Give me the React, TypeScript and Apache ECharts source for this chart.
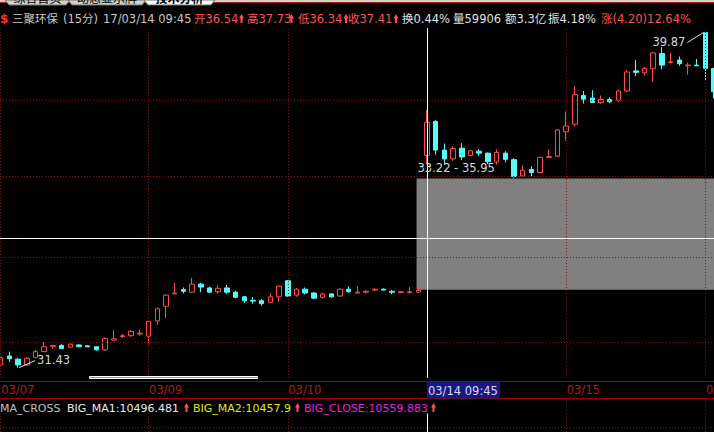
import React, { useEffect, useRef } from "react";
import * as echarts from "echarts";

const W = 714;
const H = 432;

// ---- data: 15-minute candles (index = bar number) ----
const opens = [
  31.49, 31.69, 31.62, 31.49, 31.66, 31.79, 31.91, 31.93, 31.89, 31.94,
  31.92, 31.90, 31.83, 32.05, 32.13, 32.15, 32.19, 32.14, 32.49, 32.83,
  33.12, 33.22, 33.16, 33.35, 33.26, 33.17, 33.26, 33.16, 33.05, 32.97,
  32.96, 32.92, 33.05, 33.43, 33.09, 33.23, 33.14, 33.04, 33.12, 33.07,
  33.23, 33.14, 33.16, 33.21, 33.23, 33.18, 33.15, 33.15, 33.16,
  36.54, 37.43, 36.68, 36.45, 36.73, 36.54, 36.65, 36.60, 36.37, 36.60,
  36.43, 36.01, 36.18, 36.10, 36.49, 36.52, 37.16, 37.36, 38.13, 38.06,
  37.94, 38.02, 38.00, 38.25, 38.80, 38.75, 38.86, 39.28, 39.03, 39.10,
  38.94, 38.96, 39.87, 38.87,
];
const closes = [
  31.65, 31.63, 31.49, 31.64, 31.79, 31.90, 31.93, 31.86, 31.96, 31.90,
  31.90, 31.83, 32.09, 32.08, 32.15, 32.25, 32.21, 32.48, 32.77, 33.09,
  33.14, 33.18, 33.35, 33.28, 33.16, 33.25, 33.16, 33.04, 32.96, 32.95,
  32.89, 33.05, 33.30, 33.07, 33.23, 33.14, 33.02, 33.12, 33.05, 33.23,
  33.17, 33.16, 33.18, 33.23, 33.21, 33.16, 33.17, 33.17, 33.20,
  37.41, 36.68, 36.45, 36.72, 36.50, 36.66, 36.60, 36.38, 36.62, 36.44,
  36.00, 36.16, 36.10, 36.49, 36.51, 37.21, 37.31, 38.15, 38.03, 37.94,
  38.02, 37.96, 38.25, 38.77, 38.76, 38.87, 39.30, 38.96, 39.05, 39.00,
  38.96, 38.94, 38.87, 38.23,
];
const lows = [
  31.46, 31.56, 31.43, 31.47, 31.64, 31.78, 31.85, 31.85, 31.88, 31.89,
  31.89, 31.81, 31.81, 32.05, 32.10, 32.13, 32.15, 31.98, 32.40, 32.56,
  33.12, 33.13, 33.14, 33.16, 33.14, 33.12, 33.12, 33.02, 32.91, 32.89,
  32.84, 32.90, 32.93, 33.05, 33.05, 33.11, 33.00, 33.01, 33.03, 33.05,
  33.15, 33.14, 33.13, 33.19, 33.20, 33.11, 33.14, 33.15, 33.16,
  36.34, 36.56, 36.29, 36.40, 36.42, 36.52, 36.53, 36.32, 36.30, 36.36,
  35.97, 35.98, 35.99, 36.08, 36.48, 36.50, 36.92, 37.30, 37.91, 37.93,
  37.91, 37.92, 37.95, 38.22, 38.66, 38.68, 38.50, 38.84, 39.01, 38.94,
  38.70, 38.94, 38.53, 38.05,
];
const highs = [
  31.67, 31.79, 31.64, 31.66, 31.83, 32.01, 31.94, 31.96, 31.97, 31.96,
  31.94, 31.91, 32.11, 32.28, 32.19, 32.28, 32.28, 32.51, 32.80, 33.11,
  33.38, 33.27, 33.50, 33.38, 33.29, 33.33, 33.33, 33.19, 33.07, 33.05,
  33.00, 33.14, 33.32, 33.45, 33.26, 33.27, 33.16, 33.15, 33.14, 33.25,
  33.30, 33.30, 33.21, 33.25, 33.25, 33.21, 33.19, 33.28, 33.28,
  37.73, 37.47, 36.85, 36.78, 36.86, 36.68, 36.70, 36.62, 36.70, 36.65,
  36.47, 36.29, 36.26, 36.51, 36.70, 37.23, 37.70, 38.38, 38.25, 38.27,
  38.13, 38.08, 38.28, 38.82, 39.10, 38.91, 39.31, 39.46, 39.30, 39.20,
  39.03, 39.13, 39.87, 38.87,
];

// x-axis date marks (bar index, label)
const dayDividers = [0, 17, 33, 49, 65, 81];
const dayLabels = ["03/07", "03/09", "03/10", "03/14 09:45", "03/15", "03/16"];
const cursorIndex = 49;
const cursorPrice = 34.46;
const priceGrid = [32, 34, 36, 38];
const boxLow = 33.22;
const boxHigh = 35.95;
const boxStart = 47.8;
const minMark = { index: 2, price: 31.43, label: "31.43" };
const maxMark = { index: 81, price: 39.87, label: "39.87" };
const panelGridLevel = 0.15;

const headerItems = [
  { t: "三聚环保", x: 12, c: "#c8c8c8", arrow: false },
  { t: "(15分)", x: 63, c: "#c8c8c8", arrow: false },
  { t: "17/03/14 09:45", x: 103, c: "#c8c8c8", arrow: false },
  { t: "开36.54", x: 194, c: "#ff5252", arrow: true },
  { t: "高37.73", x: 247, c: "#ff5252", arrow: true },
  { t: "低36.34", x: 298, c: "#ff5252", arrow: true },
  { t: "收37.41", x: 348, c: "#ff5252", arrow: true },
  { t: "换0.44%", x: 402, c: "#e0e0e0", arrow: false },
  { t: "量59906", x: 453, c: "#e0e0e0", arrow: false },
  { t: "额3.3亿", x: 505, c: "#e0e0e0", arrow: false },
  { t: "振4.18%", x: 548, c: "#e0e0e0", arrow: false },
  { t: "涨(4.20)12.64%", x: 601, c: "#ff5252", arrow: false },
];
const headerArrowX = [0, 0, 0, 239.5, 289.5, 344, 394];

const indicatorItems = [
  { t: "MA_CROSS", x: 0, c: "#c0c0c0", a: 0 },
  { t: "BIG_MA1:10496.481", x: 67, c: "#ececec", a: 184.5 },
  { t: "BIG_MA2:10457.9", x: 193, c: "#e6e600", a: 295.5 },
  { t: "BIG_CLOSE:10559.883", x: 304, c: "#e020e0", a: 431.5 },
];

const tabs = [
  { t: "综合首页", x0: 5, x1: 70, active: false },
  { t: "动态显示牌", x0: 68, x1: 146, active: false },
  { t: "技术分析", x0: 144, x1: 215, active: true },
];

const FONT = '"DejaVu Sans", "Noto Sans CJK SC", sans-serif';
const FS = 11.5;
const FS_IND = 11;
const RED = "#ff4c4c";
const CYAN = "#54fcfc";
const GRID_RED = "#8c1010";
const AXIS_RED = "#a80000";
const DATE_RED = "#b01c1c";

const PLOT_TOP = 28;
const PLOT_H = 350;
const PANEL_TOP = 398;
const PANEL_H = 34;
const PRICE_MIN = 31.2;
const PRICE_MAX = 40;
const BAR_STEP = 8.7;
const X_MIN = -0.08;
const X_MAX = X_MIN + W / BAR_STEP;

export default function App() {
  const ref = useRef<HTMLDivElement>(null);

  useEffect(() => {
    const el = ref.current;
    if (!el) return;
    const chart = echarts.init(el, null, { renderer: "svg", width: W, height: H });
    const candleData = opens.map((o, i) => [i, o, closes[i], lows[i], highs[i]]);
    const dotted = { color: GRID_RED, width: 1, type: [1, 2] };

    chart.setOption({
      animation: false,
      backgroundColor: "#000000",
      grid: [
        { left: 0, right: 0, top: PLOT_TOP, height: PLOT_H },
        { left: 0, right: 0, top: PANEL_TOP, height: PANEL_H },
      ],
      xAxis: [
        { type: "value", gridIndex: 0, min: X_MIN, max: X_MAX, show: false },
        { type: "value", gridIndex: 1, min: X_MIN, max: X_MAX, show: false },
      ],
      yAxis: [
        { type: "log", gridIndex: 0, min: PRICE_MIN, max: PRICE_MAX, show: false },
        { type: "value", gridIndex: 1, min: 0, max: 1, show: false },
      ],
      series: [
        {
          type: "line",
          xAxisIndex: 0,
          yAxisIndex: 0,
          data: [],
          z: 1,
          markLine: {
            silent: true,
            symbol: "none",
            label: { show: false },
            lineStyle: dotted,
            data: [
              ...priceGrid.map((p) => ({ yAxis: p })),
              ...dayDividers.map((i) => ({ xAxis: i })),
            ],
          },
        },
        {
          type: "line",
          xAxisIndex: 0,
          yAxisIndex: 0,
          data: [],
          z: 2,
          markArea: {
            silent: true,
            itemStyle: { color: "#808080", opacity: 1 },
            data: [[{ xAxis: boxStart, yAxis: boxHigh }, { xAxis: X_MAX, yAxis: boxLow }]],
          },
        },
        {
          type: "candlestick",
          xAxisIndex: 0,
          yAxisIndex: 0,
          z: 3,
          barWidth: 5,
          clip: true,
          encode: { x: 0, y: [1, 2, 3, 4] },
          data: candleData,
          itemStyle: {
            color: "#000000",
            color0: CYAN,
            borderColor: RED,
            borderColor0: CYAN,
            borderWidth: 1,
          },
        },
        {
          type: "line",
          xAxisIndex: 1,
          yAxisIndex: 1,
          data: [],
          markLine: {
            silent: true,
            symbol: "none",
            label: { show: false },
            lineStyle: dotted,
            data: [
              { yAxis: panelGridLevel },
              ...dayDividers.map((i) => ({ xAxis: i })),
            ],
          },
        },
      ],
    });

    const px = (i: number, p: number) =>
      chart.convertToPixel({ gridIndex: 0 }, [i, p]) as number[];

    const txt = (text: string, x: number, y: number, fill: string, fontSize = FS, extra: any = {}) => ({
      type: "text",
      z: 50,
      silent: true,
      style: { text, x, y, fill, fontSize, fontFamily: FONT, verticalAlign: "middle", align: "left", ...extra },
    });
    const seg = (x1: number, y1: number, x2: number, y2: number, stroke: string, z = 45, lineDash?: number[]) => ({
      type: "line",
      z,
      silent: true,
      shape: { x1, y1, x2, y2 },
      style: { stroke, lineWidth: 1, lineDash },
    });
    const arrow = (x: number, y: number) => ({
      type: "polygon",
      z: 50,
      silent: true,
      shape: {
        points: [
          [x + 2, y - 5],
          [x + 4.5, y - 0.5],
          [x + 3, y - 0.5],
          [x + 3, y + 4],
          [x + 1, y + 4],
          [x + 1, y - 0.5],
          [x - 0.5, y - 0.5],
        ],
      },
      style: { fill: "#ff5050" },
    });

    const g: any[] = [];

    // top tab strip
    g.push({ type: "rect", z: 40, silent: true, shape: { x: 0, y: 0, width: W, height: 2 }, style: { fill: "#d4d0c8" } });
    g.push(seg(0, 2.5, W, 2.5, "#a02020", 41));
    tabs.forEach((t) => {
      g.push({
        type: "polygon",
        z: 42,
        silent: true,
        shape: { points: [[t.x0, 0], [t.x0 + 4, 5], [t.x1 - 4, 5], [t.x1, 0]] },
        style: { fill: t.active ? "#ffffff" : "#d4d0c8", stroke: "#707070", lineWidth: 1 },
      });
      g.push(
        txt(t.t, (t.x0 + t.x1) / 2, 5, "#000000", 12, {
          align: "center",
          verticalAlign: "bottom",
          fontWeight: t.active ? "bold" : "normal",
        })
      );
    });

    // header
    g.push(txt("$", 0, 19, "#ff3030", 12, { fontWeight: "bold" }));
    headerItems.forEach((h, k) => {
      g.push(txt(h.t, h.x, 19, h.c, FS));
      if (h.arrow) g.push(arrow(headerArrowX[k], 19));
    });

    // axis band
    g.push(seg(0, 381.5, W, 381.5, AXIS_RED, 44));
    g.push(seg(0, 398.5, W, 398.5, AXIS_RED, 44));
    g.push({
      type: "rect",
      z: 45,
      silent: true,
      shape: { x: 89.5, y: 376.5, width: 168, height: 2 },
      style: { fill: "#8090c0", stroke: "#ffffff", lineWidth: 1 },
    });

    dayDividers.forEach((idx, k) => {
      const x = px(idx, PRICE_MIN)[0];
      if (idx === cursorIndex) {
        g.push(
          txt(dayLabels[k], x, 381.5, "#d8d8ff", FS, {
            verticalAlign: "top",
            backgroundColor: "#181880",
            padding: [2, 2, 1, 1],
            lineHeight: 14,
          })
        );
      } else {
        g.push(txt(dayLabels[k], x + 0.5, 390, DATE_RED, FS));
      }
    });

    // cursor cross-hair
    const cp = px(cursorIndex, cursorPrice);
    const cx = Math.round(cp[0]) + 0.5;
    const cy = Math.round(cp[1]) + 0.5;
    g.push(seg(cx, PLOT_TOP, cx, PLOT_TOP + PLOT_H, "#ffffff", 46));
    g.push(seg(cx, 413, cx, H, "#ffffff", 46));
    g.push(seg(0, cy, W, cy, "#ffffff", 46));

    // min / max / box annotations
    const lo = px(minMark.index, minMark.price);
    g.push(seg(lo[0] + 1, lo[1], lo[0] + 17, lo[1] - 7, "#e0e0e0", 47));
    g.push(txt(minMark.label, lo[0] + 19, lo[1] - 8, "#d8d8d8", FS));
    const hi = px(maxMark.index, maxMark.price);
    g.push(seg(hi[0] - 2, hi[1], hi[0] - 18, hi[1] + 10, "#e0e0e0", 47));
    g.push(txt(maxMark.label, hi[0] - 20, hi[1] + 9, "#d8d8d8", FS, { align: "right" }));
    const bx = px(boxStart, boxHigh);
    g.push(txt(`${boxLow.toFixed(2)} - ${boxHigh.toFixed(2)}`, bx[0] + 1, bx[1] - 10, "#d8d8d8", FS));

    // indicator line
    indicatorItems.forEach((it) => {
      g.push(txt(it.t, it.x, 408, it.c, FS_IND, { backgroundColor: "#000000" }));
      if (it.a) g.push(arrow(it.a, 408));
    });

    chart.setOption({ graphic: { elements: g } });

    return () => {
      chart.dispose();
    };
  }, []);

  return (
    <div
      ref={ref}
      style={{ position: "fixed", left: 0, top: 0, width: W, height: H, background: "#000" }}
    />
  );
}
